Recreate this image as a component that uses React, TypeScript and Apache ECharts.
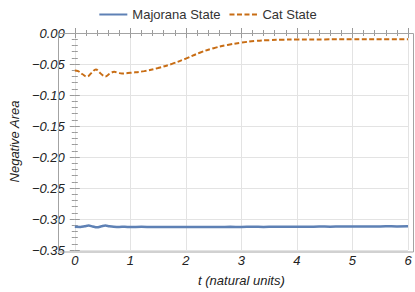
import React, { useEffect, useRef } from "react";
import * as echarts from "echarts";

const majT = [0, 0.1, 0.18, 0.25, 0.32, 0.4, 0.48, 0.55, 0.62, 0.7, 0.8, 0.9, 1.0, 1.2, 1.4, 1.6, 1.8, 2.0, 2.2, 2.4, 2.6, 2.8, 3.0, 3.2, 3.4, 3.6, 3.8, 4.0, 4.2, 4.4, 4.6, 4.8, 5.0, 5.2, 5.4, 5.6, 5.8, 6.0];
const majV = [-0.3127, -0.3128, -0.3117, -0.3106, -0.3120, -0.3134, -0.3118, -0.3106, -0.3116, -0.3124, -0.3128, -0.3126, -0.3129, -0.3127, -0.3130, -0.3128, -0.3131, -0.3129, -0.3131, -0.3128, -0.3130, -0.3127, -0.3128, -0.3126, -0.3128, -0.3125, -0.3126, -0.3124, -0.3125, -0.3122, -0.3123, -0.3121, -0.3122, -0.3119, -0.3120, -0.3118, -0.3119, -0.3117];

const catT = [0, 0.06, 0.14, 0.22, 0.3, 0.38, 0.46, 0.55, 0.63, 0.71, 0.78, 0.85, 0.93, 1.0, 1.25, 1.5, 1.75, 2.0, 2.25, 2.5, 2.75, 3.0, 3.25, 3.5, 3.75, 4.0, 4.5, 5.0, 5.5, 6.0];
const catV = [-0.0605, -0.0615, -0.0665, -0.0703, -0.0645, -0.0588, -0.0648, -0.0703, -0.0655, -0.0627, -0.0642, -0.0655, -0.0648, -0.0642, -0.0615, -0.0565, -0.0498, -0.0413, -0.0318, -0.0245, -0.0192, -0.0156, -0.0128, -0.0115, -0.0108, -0.0105, -0.0103, -0.0102, -0.0102, -0.0102];

const xTitle = "t (natural units)";
const yTitle = "Negative Area";

const FONT = "'Liberation Sans', Arial, sans-serif";
const tickColor = "#9a9a9a";
const labelFont = { fontFamily: FONT, fontStyle: "italic" as const, fontSize: 13, color: "#222" };

export default function App() {
  const ref = useRef<HTMLDivElement>(null);
  useEffect(() => {
    if (!ref.current) return;
    const chart = echarts.init(ref.current, undefined, { renderer: "svg" });
    const tickCommon = {
      axisTick: { show: true, inside: true, length: 5, lineStyle: { color: tickColor } },
      minorTick: { show: true, splitNumber: 5, length: 3, lineStyle: { color: tickColor } },
      axisLine: { show: false },
    };
    chart.setOption({
      animation: false,
      textStyle: { fontFamily: FONT },
      legend: {
        top: 3,
        left: "center",
        itemWidth: 28,
        itemHeight: 10,
        itemGap: 8,
        itemStyle: { opacity: 0 },
        textStyle: { fontSize: 13, color: "#333", fontFamily: FONT },
        data: ["Majorana State", "Cat State"],
      },
      grid: { left: 64, right: 7, top: 33, bottom: 40 },
      xAxis: [
        {
          type: "value",
          min: 0,
          max: 6,
          interval: 1,
          ...tickCommon,
          axisLabel: { ...labelFont, margin: 4 },
          splitLine: { show: true, lineStyle: { color: "#e3e3e3" } },
          name: xTitle,
          nameLocation: "middle",
          nameGap: 24,
          nameTextStyle: { ...labelFont, verticalAlign: "top" },
        },
        {
          type: "value",
          position: "top",
          min: 0,
          max: 6,
          interval: 1,
          ...tickCommon,
          axisLabel: { show: false },
          splitLine: { show: false },
        },
      ],
      yAxis: [
        {
          type: "value",
          min: -0.35,
          max: 0,
          interval: 0.05,
          offset: 6,
          ...tickCommon,
          axisLabel: {
            ...labelFont,
            margin: 4,
            formatter: (v: number) => (v < 0 ? "\u2212" + Math.abs(v).toFixed(2) : "0.00"),
          },
          splitLine: { show: true, lineStyle: { color: "#e3e3e3" } },
          name: yTitle,
          nameLocation: "middle",
          nameGap: 38,
          nameRotate: 90,
          nameTextStyle: { ...labelFont },
        },
        {
          type: "value",
          position: "right",
          min: -0.35,
          max: 0,
          interval: 0.05,
          offset: 5,
          ...tickCommon,
          axisLabel: { show: false },
          splitLine: { show: false },
        },
      ],
      graphic: [
        {
          type: "rect",
          silent: true,
          z: 10,
          shape: { x: 58.5, y: 33.5, width: 355, height: 218.5 },
          style: { fill: "none", stroke: "#a3a3a3", lineWidth: 1 },
        },
      ],
      series: [
        {
          name: "Majorana State",
          type: "line",
          xAxisIndex: 0,
          yAxisIndex: 0,
          data: majT.map((t, i) => [t, majV[i]]),
          showSymbol: false,
          symbol: "none",
          smooth: 0.3,
          lineStyle: { color: "#5e81b5", width: 2.5 },
          itemStyle: { color: "#5e81b5" },
        },
        {
          name: "Cat State",
          type: "line",
          xAxisIndex: 0,
          yAxisIndex: 0,
          data: catT.map((t, i) => [t, catV[i]]),
          showSymbol: false,
          symbol: "none",
          smooth: 0.4,
          lineStyle: { color: "#c86d14", width: 2, type: [5, 2.5] },
          itemStyle: { color: "#c86d14" },
        },
      ],
    });
    return () => chart.dispose();
  }, []);
  return <div ref={ref} style={{ width: 415, height: 292, position: "absolute", left: 0, top: 0 }} />;
}
